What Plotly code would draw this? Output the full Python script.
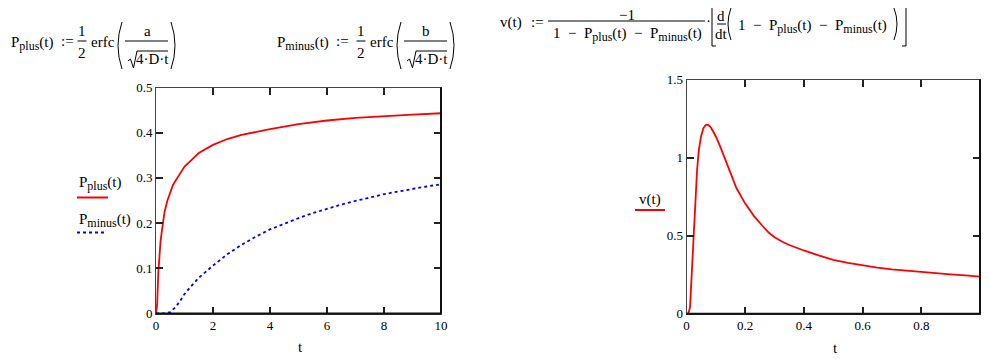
import plotly.graph_objects as go

# the page body has an 8px margin, so the figure is laid out in window pixels minus that offset
OFF = 8
W, H = 989 - OFF, 359 - OFF
FONT = "Liberation Serif, Tinos, Times New Roman, DejaVu Serif, serif"

# ---------------- data ----------------
t_plus = [0, 0.04, 0.08, 0.12, 0.16, 0.2, 0.25, 0.3, 0.4, 0.5, 0.6, 0.8, 1.0, 1.25, 1.5,
          2.0, 2.5, 3.0, 3.5, 4.0, 5.0, 6.0, 7.0, 8.0, 9.0, 10.0]
p_plus = [0, 0.02, 0.09, 0.13, 0.16, 0.18, 0.205, 0.225, 0.25, 0.27, 0.285, 0.305, 0.325, 0.34, 0.355,
          0.373, 0.386, 0.395, 0.402, 0.408, 0.419, 0.427, 0.433, 0.437, 0.44, 0.443]

t_minus = [0, 0.3, 0.5, 0.7, 0.85, 1.0, 1.2, 1.5, 2.0, 2.5, 3.0, 3.5, 4.0, 4.5, 5.0, 5.5,
           6.0, 6.5, 7.0, 7.5, 8.0, 8.5, 9.0, 9.5, 10.0]
p_minus = [0, 0, 0.003, 0.015, 0.028, 0.043, 0.058, 0.079, 0.106, 0.131, 0.152, 0.17, 0.186, 0.199, 0.211, 0.222,
           0.232, 0.241, 0.249, 0.257, 0.264, 0.27, 0.276, 0.281, 0.286]

t_v = [0, 0.006, 0.012, 0.018, 0.024, 0.03, 0.036, 0.042, 0.05, 0.058, 0.066, 0.074, 0.082, 0.09,
       0.1, 0.115, 0.13, 0.15, 0.17, 0.2, 0.23, 0.26, 0.28, 0.3, 0.325, 0.35, 0.375, 0.4, 0.45, 0.5,
       0.55, 0.6, 0.65, 0.7, 0.75, 0.8, 0.85, 0.9, 0.95, 1.0]
v_vals = [0, 0.0, 0.04, 0.25, 0.5, 0.72, 0.92, 1.05, 1.14, 1.19, 1.21, 1.21, 1.195, 1.17,
          1.135, 1.07, 0.995, 0.895, 0.805, 0.705, 0.625, 0.56, 0.52, 0.49, 0.462, 0.44, 0.421, 0.405, 0.373, 0.345,
          0.325, 0.308, 0.295, 0.284, 0.275, 0.267, 0.259, 0.252, 0.245, 0.238]

left_xticks = [0, 2, 4, 6, 8, 10]
left_yticks = [0, 0.1, 0.2, 0.3, 0.4, 0.5]
left_ytext = ["0", "0.1", "0.2", "0.3", "0.4", "0.5"]
right_xticks = [0, 0.2, 0.4, 0.6, 0.8]
right_xtext = ["0", "0.2", "0.4", "0.6", "0.8"]
right_yticks = [0, 0.5, 1, 1.5]
right_ytext = ["0", "0.5", "1", "1.5"]


def px(x):
    return (x - OFF) / W


def py(y):
    return 1 - (y - OFF) / H


RED = "#ff0000"
BLUE = "#0000ff"

fig = go.Figure()
fig.add_trace(go.Scatter(x=t_plus, y=p_plus, mode="lines", line=dict(color=RED, width=1.8),
                         xaxis="x", yaxis="y", showlegend=False))
fig.add_trace(go.Scatter(x=t_minus, y=p_minus, mode="lines", line=dict(color=BLUE, width=1.8, dash="3px,3px"),
                         xaxis="x", yaxis="y", showlegend=False))
fig.add_trace(go.Scatter(x=t_v, y=v_vals, mode="lines", line=dict(color=RED, width=1.8),
                         xaxis="x2", yaxis="y2", showlegend=False))

axis_common = dict(showgrid=False, zeroline=False, showline=True, linecolor="#444", linewidth=1,
                   mirror="ticks", ticks="inside", ticklen=7, tickwidth=1.5, tickcolor="#222",
                   automargin=False,
                   tickfont=dict(family=FONT, size=13, color="black"), fixedrange=True)

fig.update_layout(
    width=W, height=H, autosize=False,
    margin=dict(l=0, r=0, t=0, b=0, pad=0, autoexpand=False),
    paper_bgcolor="white", plot_bgcolor="white",
    xaxis=dict(domain=[px(156), px(441)], range=[0, 10], tickvals=left_xticks,
               anchor="y", **axis_common),
    yaxis=dict(domain=[py(313.5), py(87.5)], range=[0, 0.5], tickvals=left_yticks, ticktext=left_ytext,
               anchor="x", **axis_common),
    xaxis2=dict(domain=[px(686.5), px(980)], range=[0, 1], tickvals=right_xticks, ticktext=right_xtext,
                anchor="y2", **axis_common),
    yaxis2=dict(domain=[py(313.7), py(79.5)], range=[0, 1.5], tickvals=right_yticks, ticktext=right_ytext,
                anchor="x2", **axis_common),
)

shapes = []
# heavier bottom / right frame edges (Mathcad style)
for xr, yr in (("x domain", "y domain"), ("x2 domain", "y2 domain")):
    shapes.append(dict(type="line", xref=xr, yref=yr, x0=0, x1=1, y0=0, y1=0, line=dict(color="#111", width=2)))
    shapes.append(dict(type="line", xref=xr, yref=yr, x0=1, x1=1, y0=0, y1=1, line=dict(color="#111", width=2)))

ann = []


def sub(s):
    return f"<sub><span style='font-size:12px'>{s}</span></sub>"


def text(x, y, s, size=15, xa="center", ya="middle"):
    ann.append(dict(x=px(x), y=py(y), xref="paper", yref="paper", text=s, showarrow=False,
                    xanchor=xa, yanchor=ya, font=dict(family=FONT, size=size, color="black")))


def line(x0, y0, x1, y1, color="black", width=1, dash=None):
    ln = dict(color=color, width=width)
    if dash:
        ln["dash"] = dash
    shapes.append(dict(type="line", xref="paper", yref="paper", x0=px(x0), y0=py(y0), x1=px(x1), y1=py(y1),
                       line=ln))


def path(points, width=1):
    d = "M " + " L ".join(f"{px(a):.5f},{py(b):.5f}" for a, b in points)
    shapes.append(dict(type="path", xref="paper", yref="paper", path=d, line=dict(color="black", width=width)))


def paren(x0, y0, y1, left=True, bulge=4):
    ym = (y0 + y1) / 2
    xc = x0 - 2 * bulge if left else x0 + 2 * bulge
    d = f"M {px(x0):.5f},{py(y0):.5f} Q {px(xc):.5f},{py(ym):.5f} {px(x0):.5f},{py(y1):.5f}"
    shapes.append(dict(type="path", xref="paper", yref="paper", path=d, line=dict(color="black", width=1)))


def equation_p(x_off, name, num, p_x, assign_x):
    text(p_x, 43, f"P{sub(name)}(t)", xa="left")
    text(assign_x, 41, ":=")
    text(82 + x_off, 31, "1")
    line(77.5 + x_off, 41, 86.5 + x_off, 41)
    text(82 + x_off, 53, "2")
    text(89 + x_off, 42, "erfc", xa="left")
    paren(122 + x_off, 22, 69, left=True, bulge=4)
    text(147 + x_off, 31, num)
    line(125 + x_off, 41, 168 + x_off, 41)
    path([(128 + x_off, 61), (130.5 + x_off, 59), (133.5 + x_off, 68), (137 + x_off, 51), (168 + x_off, 51)])
    text(152 + x_off, 59, "4·D·t")
    paren(171 + x_off, 22, 69, left=False, bulge=4)


equation_p(0, "plus", "a", 9, 67)
equation_p(279, "minus", "b", 275, 342)

# v(t) equation
DIFF = f"1  −  P{sub('plus')}(t)  −  P{sub('minus')}(t)"
text(498, 23, "v(t)", xa="left")
text(537, 22, ":=")
text(627, 15, "−1")
line(548, 21, 705, 21)
text(627, 35, DIFF)
text(708.5, 21, "·")
path([(716, 6), (712, 6), (712, 46), (716, 46)])
text(721, 16, "d")
line(717, 24, 726, 24)
text(721, 34, "dt")
paren(731, 8, 40, left=True, bulge=3)
text(812, 26, DIFF)
paren(894, 8, 40, left=False, bulge=3)
path([(902, 6), (906, 6), (906, 46), (902, 46)])

# axis titles
text(300, 347, "t")
text(835, 348, "t")

# legends
text(77, 183, f"P{sub('plus')}(t)", xa="left")
line(77, 197.5, 108, 197.5, color=RED, width=2)
text(77, 220, f"P{sub('minus')}(t)", xa="left")
line(77, 232.5, 107, 232.5, color=BLUE, width=2, dash="3px,3px")
text(637, 199, "v(t)", xa="left")
line(635, 210, 665, 210, color=RED, width=2)

fig.update_layout(annotations=ann, shapes=shapes)
fig.write_html("out.html")
